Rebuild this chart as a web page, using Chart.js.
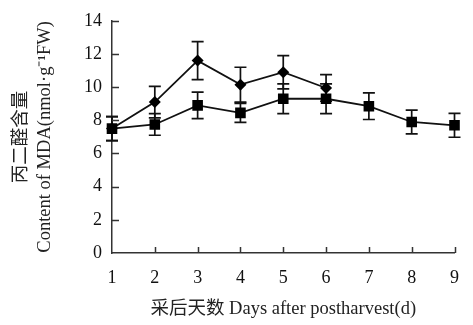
<!DOCTYPE html>
<html>
<head>
<meta charset="utf-8">
<script src="https://cdn.jsdelivr.net/npm/chart.js@4"></script>
<style>
  html, body { margin: 0; padding: 0; background: #fff; }
  #wrap { width: 473px; height: 325px; }
</style>
</head>
<body>
<div id="wrap"><canvas id="mda"></canvas></div>
<script>
// days after postharvest
const days = ['1', '2', '3', '4', '5', '6', '7', '8', '9'];
// square series (all 9 days)
const squareValues = [7.5, 7.75, 8.9, 8.45, 9.3, 9.3, 8.85, 7.9, 7.7];
const squareErrors = [0.72, 0.65, 0.8, 0.57, 0.9, 0.9, 0.8, 0.72, 0.72];
// diamond series (days 1-6)
const diamondValues = [7.5, 9.1, 11.6, 10.15, 10.9, 9.95];
const diamondErrors = [0.72, 0.95, 1.15, 1.05, 1.0, 0.8];
const yTicks = [0, 2, 4, 6, 8, 10, 12, 14];

const serif = "'Liberation Serif', 'Times New Roman', 'Noto Sans CJK SC', serif";

// error bars drawn under the markers
const errorBars = {
    id: 'errorBars',
    beforeDatasetsDraw(chart) {
        const ctx = chart.ctx;
        const y = chart.scales.y;
        ctx.save();
        ctx.strokeStyle = '#111';
        ctx.lineWidth = 1.7;
        chart.data.datasets.forEach((ds, di) => {
            const meta = chart.getDatasetMeta(di);
            ds.data.forEach((v, i) => {
                const e = ds.errors[i];
                const px = meta.data[i].x;
                const top = y.getPixelForValue(v + e);
                const bot = y.getPixelForValue(v - e);
                ctx.beginPath();
                ctx.moveTo(px, top); ctx.lineTo(px, bot);
                ctx.moveTo(px - 6, top); ctx.lineTo(px + 6, top);
                ctx.moveTo(px - 6, bot); ctx.lineTo(px + 6, bot);
                ctx.stroke();
            });
        });
        ctx.restore();
    }
};

// ticks pointing into the plot
const innerTicks = {
    id: 'innerTicks',
    afterDraw(chart) {
        const ctx = chart.ctx;
        const {x, y} = chart.scales;
        const area = chart.chartArea;
        ctx.save();
        ctx.strokeStyle = '#333';
        ctx.lineWidth = 1.5;
        ctx.beginPath();
        yTicks.forEach(t => {
            if (t === 0) return;
            const py = Math.round(y.getPixelForValue(t)) + 0.5;
            ctx.moveTo(area.left, py); ctx.lineTo(area.left + 7, py);
        });
        days.forEach((d, i) => {
            if (i === 0) return;
            const px = Math.round(x.getPixelForValue(i)) + 0.5;
            ctx.moveTo(px, area.bottom); ctx.lineTo(px, area.bottom - 6);
        });
        ctx.stroke();
        ctx.restore();
    }
};

new Chart(document.getElementById('mda'), {
    type: 'line',
    data: {
        labels: days,
        datasets: [{
            data: squareValues,
            errors: squareErrors,
            borderColor: '#111',
            backgroundColor: '#000',
            borderWidth: 1.8,
            pointStyle: 'rect',
            pointRadius: 7.5,
            pointBorderWidth: 0,
            pointHoverRadius: 7.5
        }, {
            data: diamondValues,
            errors: diamondErrors,
            borderColor: '#111',
            backgroundColor: '#000',
            borderWidth: 1.8,
            pointStyle: 'rectRot',
            pointRadius: 6,
            pointBorderWidth: 0,
            pointHoverRadius: 6
        }]
    },
    options: {
        responsive: true,
        maintainAspectRatio: false,
        animation: false,
        layout: { padding: { top: 11, right: 10, left: 0, bottom: 0 } },
        scales: {
            x: {
                grid: { display: false, drawTicks: false },
                border: { display: true, color: '#333', width: 1.5 },
                ticks: { color: '#111', padding: 14, font: { family: serif, size: 18 } },
                title: {
                    display: true,
                    text: '采后天数 Days after postharvest(d)',
                    color: '#222',
                    font: { family: serif, size: 18.5 },
                    padding: { top: 4, bottom: 5 }
                },
                afterFit(scale) { scale.height = 72; }
            },
            y: {
                min: 0,
                max: 14,
                grid: { display: false, drawTicks: false },
                border: { display: true, color: '#333', width: 1.5 },
                ticks: { stepSize: 2, color: '#111', padding: 10, font: { family: serif, size: 18 } },
                title: {
                    display: true,
                    text: ['丙二醛含量', 'Content of MDA(nmol·g⁻¹FW)'],
                    color: '#222',
                    font: { family: serif, size: 18.5, lineHeight: 1.3 },
                    padding: { top: 9, bottom: 0 }
                },
                afterFit(scale) { scale.width = 112; }
            }
        },
        plugins: {
            legend: { display: false },
            tooltip: { enabled: false }
        }
    },
    plugins: [errorBars, innerTicks]
});
</script>
</body>
</html>
